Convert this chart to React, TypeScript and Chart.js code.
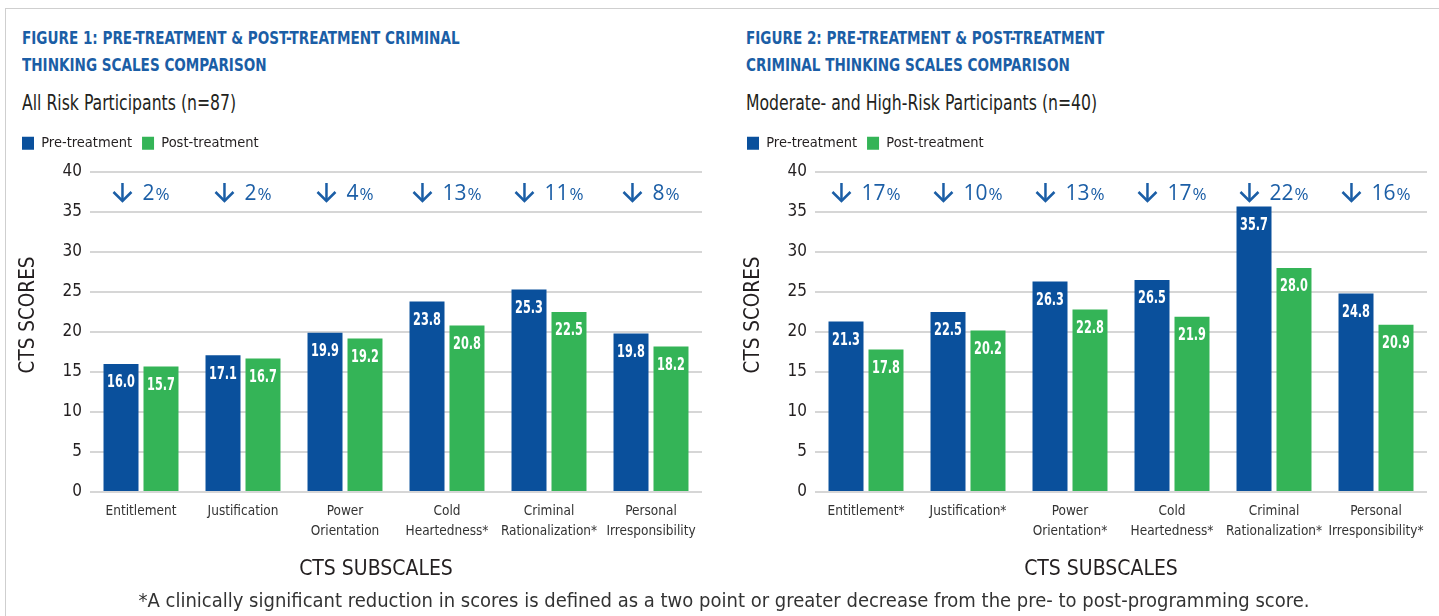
import React, { useEffect, useRef } from 'react';
import { Chart, registerables, layouts } from 'chart.js';

Chart.register(...registerables);

const NARROW = '"DejaVu Sans Condensed", "Liberation Sans Narrow", "Roboto", sans-serif';
const SANS = '"Open Sans", "Noto Sans", sans-serif';
const BLUE = '#0A509C';
const GREEN = '#34B457';
const TITLE_BLUE = '#1B5EA6';
const TEXT = '#231F20';

const seriesNames = ['Pre-treatment', 'Post-treatment'];

const fig1Title = ['FIGURE 1: PRE-TREATMENT & POST-TREATMENT CRIMINAL', 'THINKING SCALES COMPARISON'];
const fig1Subtitle = 'All Risk Participants (n=87)';
const fig1Categories: (string | string[])[] = ['Entitlement', 'Justification', ['Power', 'Orientation'], ['Cold', 'Heartedness*'], ['Criminal', 'Rationalization*'], ['Personal', 'Irresponsibility']];
const fig1Pre = [16.0, 17.1, 19.9, 23.8, 25.3, 19.8];
const fig1Post = [15.7, 16.7, 19.2, 20.8, 22.5, 18.2];
const fig1Drop = ['2', '2', '4', '13', '11', '8'];

const fig2Title = ['FIGURE 2: PRE-TREATMENT & POST-TREATMENT', 'CRIMINAL THINKING SCALES COMPARISON'];
const fig2Subtitle = 'Moderate- and High-Risk Participants (n=40)';
const fig2Categories: (string | string[])[] = ['Entitlement*', 'Justification*', ['Power', 'Orientation*'], ['Cold', 'Heartedness*'], ['Criminal', 'Rationalization*'], ['Personal', 'Irresponsibility*']];
const fig2Pre = [21.3, 22.5, 26.3, 26.5, 35.7, 24.8];
const fig2Post = [17.8, 20.2, 22.8, 21.9, 28.0, 20.9];
const fig2Drop = ['17', '10', '13', '17', '22', '16'];

const yMin = 0;
const yMax = 40;
const yStep = 5;
const dropLevel = 37.5;
const yAxisTitle = 'CTS SCORES';
const xAxisTitle = 'CTS SUBSCALES';
const footnote = '*A clinically significant reduction in scores is defined as a two point or greater decrease from the pre- to post-programming score.';

const CANVAS_TOP = 126;
const CANVAS_H = 464;
const LEGEND_GAP = 11.5;

// an empty layout box that sits between the legend and the plot area
const legendGap = {
  id: 'legendGap',
  beforeInit(chart: any) {
    const box: any = {
      options: { display: true },
      position: 'top',
      weight: 500,
      fullSize: true,
      top: 0,
      left: 0,
      right: 0,
      bottom: 0,
      width: 0,
      height: 0,
      isHorizontal() {
        return true;
      },
      update(maxWidth: number) {
        box.width = maxWidth;
        box.height = LEGEND_GAP;
      },
      draw() {},
    };
    layouts.addBox(chart, box);
  },
};

type PanelProps = {
  categories: (string | string[])[];
  pre: number[];
  post: number[];
  drops: string[];
  left: number;
  width: number;
  padLeft: number;
  padRight: number;
};

function Panel({ categories, pre, post, drops, left, width, padLeft, padRight }: PanelProps) {
  const ref = useRef<HTMLCanvasElement>(null);
  useEffect(() => {
    const canvas = ref.current!;
    const overlay = {
      id: 'overlay',
      afterDatasetsDraw(chart: any) {
        const { ctx, chartArea, scales } = chart;
        ctx.save();
        ctx.fillStyle = '#fff';
        ctx.font = `bold 17px ${NARROW}`;
        ctx.textAlign = 'center';
        ctx.textBaseline = 'middle';
        chart.data.datasets.forEach((ds: any, i: number) => {
          chart.getDatasetMeta(i).data.forEach((bar: any, j: number) => {
            ctx.save();
            ctx.translate(bar.x, bar.y + 19);
            ctx.scale(0.74, 1);
            ctx.fillText(Number(ds.data[j]).toFixed(1), 0, 0);
            ctx.restore();
          });
        });
        const yy = scales.y.getPixelForValue(dropLevel);
        drops.forEach((d, j) => {
          const cx = scales.x.getPixelForValue(j);
          ctx.font = `21px ${SANS}`;
          const nw = ctx.measureText(d).width;
          ctx.font = `17px ${SANS}`;
          const pw = ctx.measureText('%').width;
          const aw = 20;
          const gap = 10;
          const total = aw + gap + nw + pw + 1;
          const x0 = cx - total / 2;
          const ax = x0 + aw / 2;
          ctx.strokeStyle = TITLE_BLUE;
          ctx.lineWidth = 2.5;
          ctx.beginPath();
          ctx.moveTo(ax, yy - 9);
          ctx.lineTo(ax, yy + 8);
          ctx.stroke();
          ctx.beginPath();
          ctx.moveTo(ax - 9, yy);
          ctx.lineTo(ax, yy + 9);
          ctx.lineTo(ax + 9, yy);
          ctx.stroke();
          ctx.fillStyle = TITLE_BLUE;
          ctx.textAlign = 'left';
          ctx.textBaseline = 'alphabetic';
          ctx.font = `21px ${SANS}`;
          ctx.fillText(d, x0 + aw + gap, yy + 7.5);
          ctx.font = `17px ${SANS}`;
          ctx.fillText('%', x0 + aw + gap + nw + 1, yy + 7.5);
        });
        ctx.fillStyle = TEXT;
        ctx.textAlign = 'center';
        ctx.textBaseline = 'middle';
        ctx.font = `20.5px ${NARROW}`;
        ctx.save();
        ctx.translate(padLeft + 16.5, (chartArea.top + chartArea.bottom) / 2 - 17);
        ctx.rotate(-Math.PI / 2);
        ctx.fillText(yAxisTitle, 0, 0);
        ctx.restore();
        ctx.font = `21px ${NARROW}`;
        ctx.fillText(xAxisTitle, (chartArea.left + chartArea.right) / 2 - 20, chartArea.bottom + 78);
        ctx.restore();
      },
    };
    const chart = new Chart(canvas, {
      type: 'bar',
      data: {
        labels: categories as any,
        datasets: [
          { label: seriesNames[0], data: pre, backgroundColor: BLUE, categoryPercentage: 0.784, barPercentage: 0.875 },
          { label: seriesNames[1], data: post, backgroundColor: GREEN, categoryPercentage: 0.784, barPercentage: 0.875 },
        ],
      },
      options: {
        animation: false,
        responsive: false,
        layout: { padding: { left: padLeft, right: padRight, top: 0, bottom: 48 } },
        plugins: {
          legend: {
            position: 'top',
            align: 'start',
            labels: { boxWidth: 12, boxHeight: 13, padding: 10, color: TEXT, font: { family: NARROW, size: 14.5 } },
          },
          tooltip: { enabled: false },
        },
        scales: {
          x: {
            grid: { display: false, drawTicks: false },
            border: { display: false },
            ticks: { color: '#333', font: { family: NARROW, size: 13.5, lineHeight: 1.48 }, padding: 10, maxRotation: 0, autoSkip: false },
            afterFit: (s: any) => { s.height = 50; },
          },
          y: {
            min: yMin,
            max: yMax,
            ticks: { stepSize: yStep, autoSkip: false, color: TEXT, font: { family: NARROW, size: 17 }, padding: 8 },
            grid: { color: '#d6d6d6', lineWidth: 2, drawTicks: false },
            border: { display: false },
            afterFit: (s: any) => { s.width = 78; },
          },
        },
      },
      plugins: [legendGap, overlay],
    });
    return () => chart.destroy();
  }, []);
  return (
    <canvas ref={ref} width={width} height={CANVAS_H} style={{ position: 'absolute', left, top: CANVAS_TOP, width, height: CANVAS_H }} />
  );
}

function Heading({ left, title, subtitle }: { left: number; title: string[]; subtitle: string }) {
  return (
    <>
      <div style={{ position: 'absolute', left, top: 24, font: `bold 18.5px/27px ${NARROW}`, color: TITLE_BLUE, whiteSpace: 'pre', transform: 'scaleX(0.815)', transformOrigin: '0 0' }}>
        {title.join('\n')}
      </div>
      <div style={{ position: 'absolute', left, top: 90, font: `21px/26px ${NARROW}`, color: TEXT, whiteSpace: 'pre', transform: 'scaleX(0.83)', transformOrigin: '0 0' }}>
        {subtitle}
      </div>
    </>
  );
}

export default function App() {
  return (
    <div style={{ position: 'absolute', left: 0, top: 0, width: 1439, height: 616, overflow: 'hidden', background: '#fff' }}>
      <div style={{ position: 'absolute', left: 5, top: 8, width: 1500, height: 700, border: '1.5px solid #cfcfcf' }} />
      <Heading left={22} title={fig1Title} subtitle={fig1Subtitle} />
      <Heading left={746} title={fig2Title} subtitle={fig2Subtitle} />
      <Panel categories={fig1Categories} pre={fig1Pre} post={fig1Post} drops={fig1Drop} left={0} width={720} padLeft={12} padRight={18} />
      <Panel categories={fig2Categories} pre={fig2Pre} post={fig2Post} drops={fig2Drop} left={720} width={719} padLeft={17} padRight={12} />
      <div style={{ position: 'absolute', left: 0, width: 1448, top: 588, textAlign: 'center', font: `20px/24px ${NARROW}`, color: '#333' }}>
        {footnote}
      </div>
    </div>
  );
}
